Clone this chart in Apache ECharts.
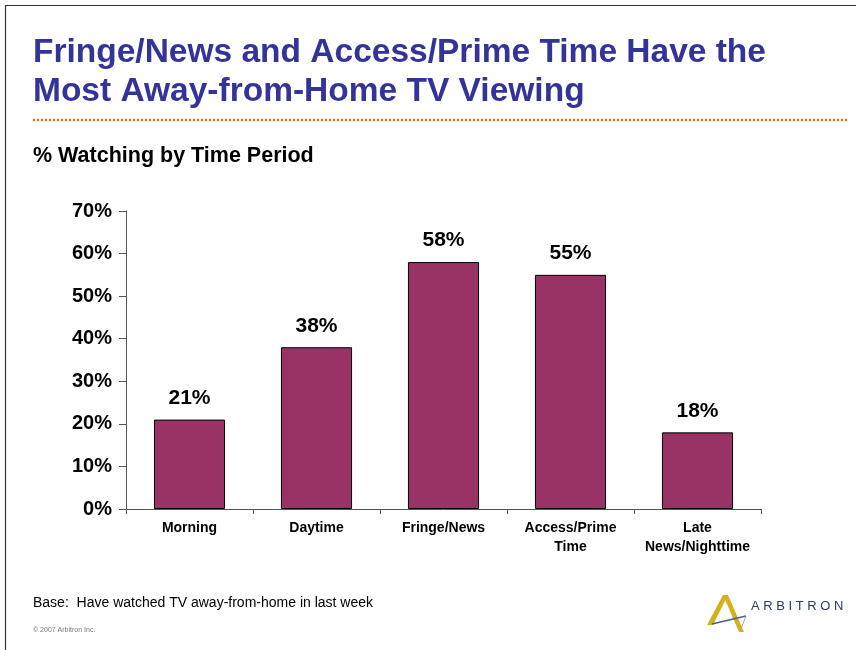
<!DOCTYPE html>
<html><head><meta charset="utf-8">
<script src="https://cdn.jsdelivr.net/npm/echarts@6/dist/echarts.min.js"></script>
<style>html,body{margin:0;padding:0;background:#fff}#c{width:856px;height:650px}</style>
</head><body><div id="c"></div>
<script>
const categories = ['Morning', 'Daytime', 'Fringe/News', 'Access/Prime\nTime', 'Late\nNews/Nighttime'];
const values = [21, 38, 58, 55, 18];
const yTicks = [0, 10, 20, 30, 40, 50, 60, 70];
const titleLines = ['Fringe/News and Access/Prime Time Have the', 'Most Away-from-Home TV Viewing'];
const subtitle = '% Watching by Time Period';
const baseNote = 'Base:  Have watched TV away-from-home in last week';
const copyright = '\u00a9 2007 Arbitron Inc.';
const logoText = 'A R B I T R O N';
const FONT = '"Liberation Sans", Arial, sans-serif';

const chart = echarts.init(document.getElementById('c'));
chart.setOption({
  animation: false,
  backgroundColor: '#fff',
  grid: { left: 126, right: 95, top: 211, bottom: 141 },
  xAxis: {
    type: 'category', data: categories, boundaryGap: true,
    axisLine: { lineStyle: { color: '#555', width: 1 } },
    axisTick: { show: true, length: 5, inside: false, lineStyle: { color: '#555' } },
    axisLabel: { color: '#000', fontFamily: FONT, fontWeight: 'bold', fontSize: 14, lineHeight: 19, margin: 10, interval: 0 }
  },
  yAxis: {
    type: 'value', min: 0, max: 70, interval: 10,
    axisLine: { show: true, lineStyle: { color: '#555', width: 1 } },
    axisTick: { show: true, length: 7, inside: false, lineStyle: { color: '#555' } },
    splitLine: { show: false },
    axisLabel: { color: '#000', fontFamily: FONT, fontWeight: 'bold', fontSize: 20, margin: 14,
      formatter: v => yTicks.includes(v) ? v + '%' : '' }
  },
  series: [{
    type: 'bar', data: values, barWidth: '56%',
    itemStyle: { color: '#993366', borderColor: '#000', borderWidth: 1 },
    label: { show: true, position: 'top', distance: 11, color: '#000', fontFamily: FONT, fontWeight: 'bold', fontSize: 21, formatter: p => p.value + '%' }
  }],
  graphic: [
    { type: 'polyline', shape: { points: [[5.5, 650], [5.5, 5.5], [856, 5.5]] }, style: { stroke: '#333', lineWidth: 1.2, fill: null } },
    { type: 'text', left: 33, top: 36, style: { text: titleLines[0], fill: '#333399', font: 'bold 33.5px ' + FONT } },
    { type: 'text', left: 33, top: 75, style: { text: titleLines[1], fill: '#333399', font: 'bold 33.5px ' + FONT } },
    { type: 'line', shape: { x1: 33, y1: 120, x2: 848, y2: 120 }, style: { stroke: '#FF6600', lineWidth: 2.5, lineDash: [2, 2] } },
    { type: 'text', left: 33, top: 145, style: { text: subtitle, fill: '#000', font: 'bold 21.5px ' + FONT } },
    { type: 'text', left: 33, top: 596, style: { text: baseNote, fill: '#000', font: '14px ' + FONT } },
    { type: 'text', left: 33, top: 627, style: { text: copyright, fill: '#777', font: '7px ' + FONT } },
    { type: 'polygon', shape: { points: [[707, 625], [723, 595], [728, 595], [713, 625]] }, style: { fill: '#D4B21E' } },
    { type: 'polygon', shape: { points: [[723, 595], [728, 595], [744, 632], [739, 632]] }, style: { fill: '#D4B21E' } },
    { type: 'line', shape: { x1: 712, y1: 624, x2: 746, y2: 616 }, style: { stroke: '#4A5A9A', lineWidth: 1.5 } },
    { type: 'polyline', shape: { points: [[746, 616], [741, 629]] }, style: { stroke: '#9AA4C8', lineWidth: 1, fill: null } },
    { type: 'text', left: 751, top: 600, style: { text: logoText, fill: '#2B3A67', font: '13px ' + FONT } }
  ]
});
</script></body></html>
